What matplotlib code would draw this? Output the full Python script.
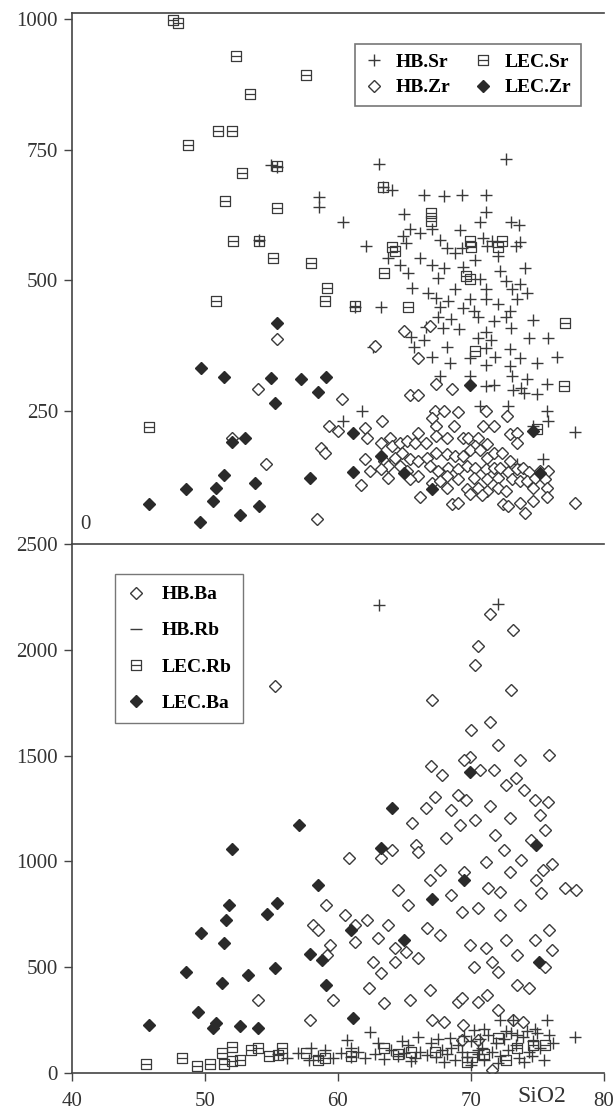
import matplotlib
matplotlib.use("Agg")
import matplotlib.pyplot as plt
from matplotlib.path import Path
from matplotlib.lines import Line2D

plt.rcParams['font.family'] = ['Liberation Serif', 'DejaVu Serif']

# ---------------- upper panel: Sr and Zr vs SiO2 ----------------
hb_sr_x = [72.6, 63.1, 55.0, 55.4, 54.1, 63.4, 64.1, 66.5, 69.3, 68.0, 71.1, 58.6, 58.6, 65.0, 71.1,
           60.4, 70.7, 73.0, 65.4, 67.1, 69.2, 73.6, 64.9, 66.2, 67.7, 70.9, 71.6, 62.1, 65.1, 68.2,
           69.3, 71.2, 73.4, 73.7, 63.8, 66.2, 68.8, 70.3, 72.0, 64.7, 67.1, 68.0, 69.4, 72.2, 74.1,
           65.3, 67.5, 70.7, 72.6, 73.7, 65.6, 66.8, 68.8, 71.1, 73.1, 74.2, 67.4, 68.3, 69.9, 71.1,
           72.0, 73.5, 61.3, 63.2, 67.7, 69.4, 70.2, 72.9, 67.5, 68.5, 70.5, 71.7, 72.6, 74.7, 66.6,
           67.9, 69.1, 71.1, 73.0, 65.5, 66.5, 70.5, 71.5, 74.4, 75.8, 62.6, 65.7, 68.2, 71.1, 72.9,
           67.1, 69.9, 71.8, 73.7, 76.5, 68.4, 71.1, 72.9, 75.0, 67.7, 69.9, 73.1, 74.2, 71.1, 73.8,
           75.7, 75.7, 77.8, 61.8, 60.4, 71.7, 73.2, 74.0, 75.0, 72.8, 75.8, 74.7, 70.7, 75.4, 73.5]
hb_sr_y = [732, 722, 720, 716, 578, 679, 673, 664, 664, 662, 664, 641, 660, 627, 631,
           612, 612, 612, 599, 599, 597, 605, 584, 590, 578, 580, 576, 565, 571, 561,
           561, 565, 565, 574, 542, 542, 552, 539, 546, 529, 529, 524, 525, 518, 524,
           514, 505, 503, 499, 492, 486, 476, 484, 484, 484, 476, 467, 461, 465, 465,
           454, 465, 448, 448, 448, 446, 442, 442, 429, 425, 429, 422, 429, 423, 410,
           409, 407, 401, 409, 391, 385, 390, 385, 390, 390, 373, 373, 373, 370, 368,
           354, 352, 354, 352, 354, 341, 337, 335, 341, 316, 316, 316, 310, 297, 293,
           301, 250, 210, 250, 231, 300, 290, 285, 282, 260, 231, 221, 260, 158, 149]

lec_sr_x = [47.6, 48.0, 52.3, 57.6, 53.4, 48.7, 51.0, 52.0, 52.8, 55.4, 51.5, 55.4, 52.1, 54.1,
            55.1, 50.8, 58.0, 59.2, 59.0, 61.3, 45.8, 63.4, 63.5, 64.1, 64.3, 65.3, 67.0, 67.0,
            69.9, 70.0, 69.6, 69.9, 72.0, 72.3, 70.3, 77.1, 77.0, 75.0]
lec_sr_y = [999, 993, 930, 894, 857, 760, 785, 785, 705, 718, 651, 638, 575, 575,
            542, 460, 533, 485, 460, 450, 219, 678, 514, 563, 556, 449, 628, 613,
            575, 563, 508, 502, 563, 575, 365, 418, 298, 216]

hb_zr_x = [67.4, 68.6, 65.4, 66.0, 60.3, 63.3, 67.3, 68.0, 69.0, 71.1, 67.1, 67.4, 68.7, 70.9, 71.7,
           72.7, 72.9, 73.5, 73.5, 59.3, 60.0, 62.0, 62.2, 58.7, 59.0, 63.2, 63.9, 64.1, 64.7, 65.2,
           65.8, 66.0, 66.6, 67.4, 68.2, 69.4, 69.8, 70.5, 70.3, 71.2, 62.0, 62.4, 63.5, 63.8, 64.3,
           64.8, 65.4, 66.0, 66.7, 67.4, 68.2, 68.8, 69.4, 69.9, 70.7, 71.2, 71.7, 72.3, 72.9, 63.2,
           64.7, 65.2, 66.0, 66.9, 67.5, 68.3, 69.0, 69.7, 70.3, 71.1, 71.7, 72.2, 72.8, 73.5, 73.9,
           74.4, 75.2, 75.8, 63.8, 65.4, 68.2, 69.0, 70.2, 71.2, 72.0, 73.1, 73.7, 74.2, 74.8, 75.6,
           61.7, 66.2, 67.1, 67.7, 68.2, 69.7, 70.5, 71.2, 72.0, 72.6, 74.7, 75.7, 68.6, 69.0, 69.9,
           70.8, 72.4, 72.8, 73.7, 74.1, 74.7, 75.7, 77.8, 58.4, 55.4, 54.0, 52.0, 54.6, 62.8, 65.0,
           66.0, 66.9]
hb_zr_y = [302, 292, 281, 281, 273, 231, 250, 250, 248, 250, 237, 221, 221, 221, 221,
           240, 206, 208, 189, 221, 212, 218, 198, 179, 170, 189, 198, 183, 189, 193,
           189, 208, 189, 202, 198, 198, 198, 198, 183, 187, 158, 135, 154, 145, 160,
           170, 158, 154, 160, 170, 168, 164, 164, 174, 174, 160, 170, 170, 154, 139,
           145, 135, 126, 145, 135, 141, 139, 145, 141, 139, 141, 141, 132, 139, 141,
           132, 135, 135, 122, 120, 126, 120, 122, 120, 122, 120, 116, 116, 122, 120,
           107, 84, 111, 116, 103, 101, 103, 97, 103, 97, 103, 103, 72, 74, 91,
           88, 72, 67, 74, 55, 78, 84, 74, 42, 388, 292, 198, 149, 374, 403,
           351, 412]

lec_zr_x = [45.8, 48.6, 49.6, 49.7, 50.6, 50.8, 51.4, 51.4, 52.0, 53.0, 52.6, 53.8, 54.1, 55.0,
            55.3, 55.4, 57.2, 57.9, 58.5, 59.1, 61.1, 61.1, 63.2, 65.0, 67.1, 69.9, 74.7, 75.2]
lec_zr_y = [72, 101, 38, 332, 78, 103, 128, 315, 191, 198, 51, 112, 67, 313,
            265, 418, 311, 122, 286, 315, 208, 133, 164, 130, 101, 300, 212, 130]

# ---------------- lower panel: Ba and Rb vs SiO2 ----------------
hb_ba_x = [55.3, 71.4, 70.5, 70.3, 73.2, 73.0, 67.1, 71.4, 70.0, 69.9, 69.5, 73.7, 75.9, 72.0,
           67.0, 67.8, 70.7, 71.7, 73.4, 72.6, 74.0, 69.0, 67.3, 69.6, 74.8, 75.8, 71.4, 66.6,
           68.5, 70.3, 72.9, 75.2, 65.6, 69.2, 75.6, 68.1, 71.8, 74.5, 65.9, 66.0, 64.1, 63.2,
           72.5, 73.8, 71.1, 67.7, 69.5, 72.9, 75.4, 76.1, 60.8, 66.9, 74.9, 71.3, 72.2, 68.5,
           75.3, 77.1, 77.9, 64.5, 65.3, 73.7, 70.5, 69.3, 72.2, 59.1, 60.5, 58.1, 58.5, 61.3,
           62.2, 63.8, 66.7, 67.7, 63.0, 61.3, 59.4, 64.3, 65.1, 69.9, 71.1, 72.6, 74.8, 75.9,
           76.1, 73.5, 66.0, 62.6, 64.3, 71.6, 72.0, 75.6, 70.2, 73.5, 74.4, 59.2, 62.3, 63.2,
           65.4, 63.5, 66.9, 69.0, 69.3, 70.5, 71.2, 72.0, 73.2, 73.9, 59.6, 57.9, 67.1, 68.0,
           69.4, 54.0, 71.6, 70.5, 69.3]
hb_ba_y = [1830, 2171, 2020, 1930, 2095, 1811, 1764, 1660, 1622, 1495, 1480, 1480, 1504, 1551,
           1452, 1409, 1433, 1433, 1395, 1362, 1338, 1315, 1305, 1291, 1291, 1282, 1263, 1253,
           1244, 1197, 1206, 1220, 1183, 1173, 1149, 1112, 1126, 1102, 1078, 1045, 1055, 1017,
           1055, 1008, 998, 960, 951, 951, 960, 989, 1017, 913, 913, 875, 856, 842,
           851, 875, 866, 866, 795, 795, 780, 762, 747, 795, 747, 700, 676, 700,
           724, 700, 686, 653, 639, 620, 605, 591, 572, 605, 591, 629, 629, 676,
           582, 558, 544, 525, 525, 525, 478, 501, 501, 416, 402, 558, 402, 473,
           345, 331, 393, 336, 355, 336, 369, 298, 251, 241, 345, 251, 251, 241,
           227, 345, 14, 156, 156]

hb_rb_x = [56.2, 57.0, 57.8, 58.5, 59.0, 59.6, 60.2, 60.7, 61.0, 61.5, 62.0, 62.4, 62.8, 63.1, 72.0,
           63.5, 64.0, 64.5, 65.0, 65.3, 65.8, 66.2, 66.7, 67.0, 67.4, 67.8, 68.2, 68.4, 68.8, 69.0,
           69.3, 69.7, 70.0, 70.2, 70.5, 70.8, 71.0, 71.3, 71.6, 71.9, 72.2, 72.2, 72.5, 72.8, 73.0,
           73.2, 73.4, 73.6, 73.9, 74.2, 74.4, 74.7, 75.0, 75.2, 75.5, 75.7, 75.9, 76.2, 77.8, 66.0,
           68.0, 70.0, 72.0, 74.0, 69.5, 71.0, 74.8, 73.5, 72.6, 70.7, 67.5, 64.8, 61.0, 58.0, 55.5,
           63.0, 65.5, 68.5, 70.5, 74.6]
hb_rb_y = [70, 95, 60, 80, 110, 70, 95, 156, 75, 100, 70, 194, 90, 2210, 2214,
           65, 110, 80, 95, 130, 70, 100, 85, 140, 75, 110, 90, 166, 60, 130,
           100, 75, 150, 203, 90, 120, 60, 180, 100, 140, 251, 80, 160, 110, 190,
           251, 130, 70, 170, 200, 100, 150, 190, 120, 60, 251, 180, 140, 170, 170,
           50, 40, 45, 50, 175, 210, 210, 180, 200, 160, 160, 150, 120, 120, 90,
           140, 55, 120, 110, 80]

lec_rb_x = [45.6, 48.3, 49.4, 50.4, 51.3, 51.4, 52.0, 52.0, 52.6, 53.5, 54.0, 54.8, 55.5, 55.8,
            57.6, 58.5, 59.0, 61.0, 63.5, 64.5, 65.5, 67.3, 69.7, 70.1, 71.0, 72.0, 72.6, 73.5,
            74.7, 75.6]
lec_rb_y = [43, 71, 33, 43, 95, 43, 57, 123, 60, 110, 118, 80, 85, 120,
            95, 61, 70, 80, 118, 90, 100, 99, 52, 76, 90, 165, 61, 120,
            132, 132]

lec_ba_x = [45.8, 48.6, 49.5, 49.7, 50.6, 50.8, 51.3, 51.4, 51.6, 51.8, 52.6, 52.0, 53.2, 54.0,
            54.7, 55.3, 55.4, 57.1, 57.9, 58.5, 58.8, 59.1, 61.1, 61.0, 63.2, 64.1, 65.0, 67.1,
            69.5, 69.9, 74.9, 75.1]
lec_ba_y = [227, 478, 289, 662, 213, 237, 426, 615, 724, 795, 222, 1060, 464, 213,
            752, 497, 804, 1173, 563, 889, 534, 416, 260, 676, 1064, 1253, 629, 823,
            913, 1424, 1078, 525]

x_ticks = [40, 50, 60, 70, 80]
top_ticks = [250, 500, 750, 1000]
bottom_ticks = [0, 500, 1000, 1500, 2000, 2500]

# ---------------- styling ----------------
ink = '#3a3a3a'
box_mid = Path([(-1, -1), (1, -1), (1, 1), (-1, 1), (-1, -1), (-1, 0), (1, 0)],
               [Path.MOVETO, Path.LINETO, Path.LINETO, Path.LINETO, Path.CLOSEPOLY,
                Path.MOVETO, Path.LINETO])

styles = {
    'plus': dict(marker='+', ms=8, mew=1.0, color=ink, ls='none'),
    'box': dict(marker=box_mid, ms=7, mew=0.9, color=ink, mfc='none', ls='none'),
    'open_d': dict(marker='D', ms=6, mew=1.0, color=ink, mfc='white', ls='none'),
    'solid_d': dict(marker='D', ms=6, mew=1.0, color='#2a2a2a', mfc='#2a2a2a', ls='none'),
}

fig = plt.figure(figsize=(6.15, 11.14), dpi=100)
ax1 = fig.add_axes([0.117, 0.5117, 0.865, 0.4767])
ax2 = fig.add_axes([0.117, 0.0368, 0.865, 0.4749])

# upper panel
ax1.plot(hb_sr_x, hb_sr_y, label='HB.Sr', **styles['plus'])
ax1.plot(lec_sr_x, lec_sr_y, label='LEC.Sr', **styles['box'])
ax1.plot(hb_zr_x, hb_zr_y, label='HB.Zr', **styles['open_d'])
ax1.plot(lec_zr_x, lec_zr_y, label='LEC.Zr', **styles['solid_d'])
ax1.set_xlim(40, 80)
ax1.set_ylim(-5, 1012)
ax1.set_yticks(top_ticks)
ax1.set_xticks([])
ax1.text(0.016, 0.036, '0', transform=ax1.transAxes, fontsize=15, color='#333333',
         ha='left', va='center')

h1, l1 = ax1.get_legend_handles_labels()
order = [0, 2, 1, 3]
leg1 = ax1.legend([h1[i] for i in order], [l1[i] for i in order], ncol=2,
                  loc='upper right', bbox_to_anchor=(0.957, 0.942), borderaxespad=0,
                  prop=dict(family='Liberation Serif', weight='bold', size=14),
                  frameon=True, fancybox=False, edgecolor='#555555', handlelength=1.0,
                  handletextpad=0.6, columnspacing=1.2, borderpad=0.5, labelspacing=0.4)
leg1.get_frame().set_linewidth(1.2)

# lower panel
ax2.plot(hb_ba_x, hb_ba_y, **styles['open_d'])
ax2.plot(hb_rb_x, hb_rb_y, **styles['plus'])
ax2.plot(lec_rb_x, lec_rb_y, **styles['box'])
ax2.plot(lec_ba_x, lec_ba_y, **styles['solid_d'])
ax2.set_xlim(40, 80)
ax2.set_ylim(0, 2500)
ax2.set_yticks(bottom_ticks)
ax2.set_xticks(x_ticks)

handles2 = [Line2D([], [], **styles['open_d']),
            Line2D([], [], marker='_', ms=8, mew=1.0, color=ink, ls='none'),
            Line2D([], [], **styles['box']),
            Line2D([], [], **styles['solid_d'])]
leg2 = ax2.legend(handles2, ['HB.Ba', 'HB.Rb', 'LEC.Rb', 'LEC.Ba'],
                  loc='upper left', bbox_to_anchor=(0.081, 0.943), borderaxespad=0,
                  prop=dict(family='Liberation Serif', weight='bold', size=14),
                  frameon=True, fancybox=False, edgecolor='#555555', handlelength=1.0,
                  handletextpad=0.8, borderpad=0.6, labelspacing=0.95)
leg2.get_frame().set_linewidth(1.0)

ax2.text(75.3, -0.045, 'SiO2', transform=ax2.get_xaxis_transform(), fontsize=17,
         color='#333333', ha='center', va='center')

for ax in (ax1, ax2):
    ax.spines['right'].set_visible(False)
    for s in ('left', 'top', 'bottom'):
        ax.spines[s].set_color('#444444')
        ax.spines[s].set_linewidth(1.2)
    ax.tick_params(axis='both', direction='out', length=6, width=1, colors='#444444',
                   labelsize=15, labelcolor='#333333')
    ax.tick_params(axis='y', pad=4)
ax1.spines['bottom'].set_visible(False)
ax2.tick_params(axis='x', pad=8)

fig.savefig('out.png', dpi=100, facecolor='white')
